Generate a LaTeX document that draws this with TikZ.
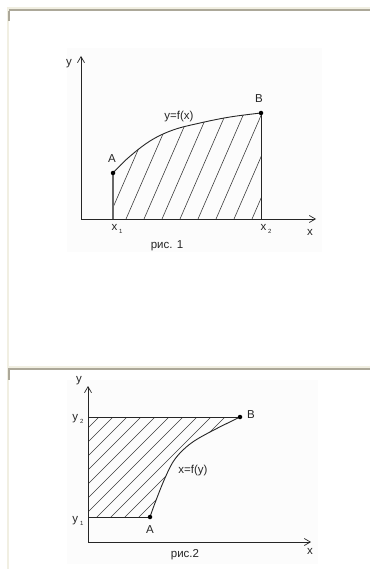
\documentclass[tikz,border=0pt]{standalone}
\usepackage{fontspec}
\setmainfont{Liberation Sans}
\usepackage{xcolor}
\usetikzlibrary{arrows.meta}

\definecolor{cream}{HTML}{F1EFE2}
\definecolor{frame}{HTML}{ACA899}
\definecolor{paper}{HTML}{FCFCFC}
\definecolor{ink}{HTML}{262626}

\newcommand{\lowidx}[1]{\,\raisebox{-2.5pt}{\fontsize{6}{6}\selectfont #1}}

\begin{document}
\begin{tikzpicture}[
    x=1pt, y=-1pt,
    axis/.style={line width=0.9pt, draw=ink, -{Straight Barb[length=6pt,width=7pt,line width=0.7pt]}},
    bound/.style={line width=0.9pt, draw=ink},
    hatch/.style={line width=0.6pt, draw=ink!90},
    dot/.style={circle, fill=black, inner sep=0pt, minimum size=4.5pt},
    lbl/.style={font=\fontsize{11.5}{13}\selectfont, text=ink, inner sep=0pt},
    curveone/.style={insert path={-- plot[smooth, tension=0.6] coordinates {(113,173) (128,158) (150,141) (173,130) (200,123) (230,117) (261,113)}}},
    curvetwo/.style={insert path={-- plot[smooth, tension=0.6] coordinates {(150,517) (155,503) (165,478) (175,459) (190,444) (210,432) (240,417)}}}
]
\useasboundingbox (0,0) rectangle (370,569);

% window frame
\fill[cream] (7,7) rectangle (370,9);
\fill[frame] (9,9) rectangle (370,11);
\fill[cream] (7,7) rectangle (9,569);
\fill[frame] (8,11) rectangle (9.5,21);
\fill[cream] (7,366) rectangle (370,368);
\fill[frame] (8,368) rectangle (370,370);
\fill[frame] (8,370) rectangle (9.5,380);
\fill[paper] (67,48) rectangle (322,252);
\fill[paper] (67,380) rectangle (318,564);

% fig. 1
\coordinate (O1) at (81,219);
\coordinate (Ytop1) at (81,56);
\coordinate (Xend1) at (316,219);
\coordinate (X1) at (113,219);
\coordinate (X2) at (261,219);

\begin{scope}
  \clip (X1) -- (113,173) [curveone] -- (X2) -- cycle;
  \foreach \k in {-3,...,7}
    \draw[hatch] ({126+18*\k},219) -- ++(80,-184);
\end{scope}

\draw[bound] (113,173) [curveone];
\draw[bound, draw=ink!70, line width=1.2pt] (X1) -- (113,173);
\draw[bound] (X2) -- (261,113);
\draw[axis] (O1) -- (Ytop1);
\draw[axis] (O1) -- (Xend1);
\node[dot] (A1) at (113,173) {};
\node[dot] (B1) at (261,113) {};

\node[lbl] (ylab1) at (69,64) {y};
\node[lbl] (xlab1) at (310,232) {x};
\node[lbl] (Alab1) at (112,159) {A};
\node[lbl] (Blab1) at (259,99) {B};
\node[lbl] (flab1) at (179,117) {y=f(x)};
\node[lbl] (x1lab) at (117,229) {x\lowidx{1}};
\node[lbl] (x2lab) at (266,229) {x\lowidx{2}};
\node[lbl] (cap1) at (167,246) {рис. 1};

% fig. 2
\coordinate (O2) at (88,542);
\coordinate (Ytop2) at (88,386);
\coordinate (Xend2) at (311,542);
\coordinate (Y1) at (88,517);
\coordinate (Y2) at (88,417);

\begin{scope}
  \clip (Y2) -- (Y1) -- (150,517) [curvetwo] -- cycle;
  \foreach \k in {-8,...,4}
    \draw[hatch] ({614+14*\k-530},530) -- ++(140,-140);
\end{scope}

\draw[bound] (150,517) [curvetwo];
\draw[bound] (Y1) -- (150,517);
\draw[bound] (Y2) -- (240,417);
\draw[axis] (O2) -- (Ytop2);
\draw[axis] (O2) -- (Xend2);
\node[dot] (A2) at (150,517) {};
\node[dot] (B2) at (240,417) {};

\node[lbl] (ylab2) at (79,381) {y};
\node[lbl] (xlab2) at (310,551) {x};
\node[lbl] (Alab2) at (150,530) {A};
\node[lbl] (Blab2) at (251,415) {B};
\node[lbl] (flab2) at (193,471) {x=f(y)};
\node[lbl] (y2lab) at (78,419) {y\lowidx{2}};
\node[lbl] (y1lab) at (78,521) {y\lowidx{1}};
\node[lbl] (cap2) at (185,555) {рис.2};
\end{tikzpicture}
\end{document}
